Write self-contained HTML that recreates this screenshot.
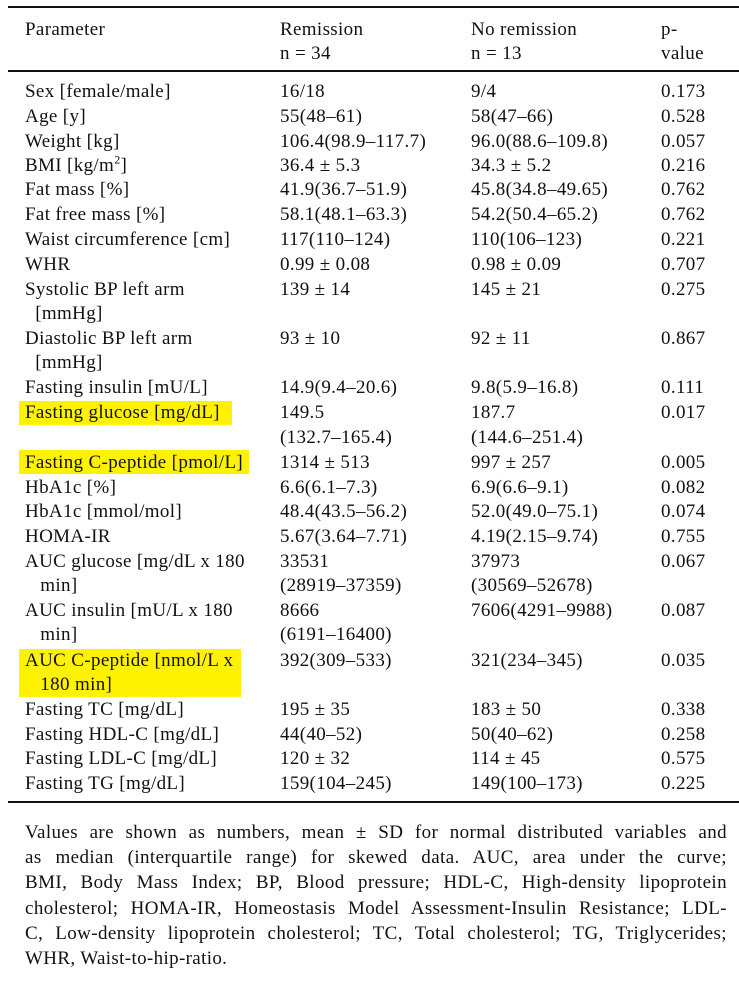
<!DOCTYPE html><html><head><style>
body{margin:0;width:739px;height:981px;background:#fff;position:relative;font-family:"Liberation Serif",serif;font-size:19px;letter-spacing:0.35px;color:#111;overflow:hidden}
.t{position:absolute;line-height:20px;white-space:nowrap}
.r{position:absolute;left:0;background:#111}
.h{position:absolute;background:#fff200}
.j{position:absolute;left:25px;width:702px;line-height:20px;text-align:justify;text-align-last:justify;white-space:nowrap;letter-spacing:0.4px}
</style></head><body>
<div class="r" style="top:6px;left:8px;width:731px;height:2px"></div>
<div class="r" style="top:70px;left:8px;width:731px;height:2px"></div>
<div class="r" style="top:801px;left:8px;width:731px;height:2px"></div>
<div class="h" style="left:19px;top:401px;width:213px;height:24px"></div>
<div class="h" style="left:19px;top:450px;width:230px;height:24px"></div>
<div class="h" style="left:19px;top:649px;width:222px;height:48px"></div>
<div id="c"></div>
<script>
const rows=[
[28,"Parameter","Remission","No remission","p-"],
[52,"","n = 34","n = 13","value"],
[90,"Sex [female/male]","16/18","9/4","0.173"],
[115,"Age [y]","55(48–61)","58(47–66)","0.528"],
[140,"Weight [kg]","106.4(98.9–117.7)","96.0(88.6–109.8)","0.057"],
[164,"BMI [kg/m<sup style='font-size:12px;line-height:0'>2</sup>]","36.4 ± 5.3","34.3 ± 5.2","0.216"],
[188,"Fat mass [%]","41.9(36.7–51.9)","45.8(34.8–49.65)","0.762"],
[213,"Fat free mass [%]","58.1(48.1–63.3)","54.2(50.4–65.2)","0.762"],
[238,"Waist circumference [cm]","117(110–124)","110(106–123)","0.221"],
[263,"WHR","0.99 ± 0.08","0.98 ± 0.09","0.707"],
[288,"Systolic BP left arm","139 ± 14","145 ± 21","0.275"],
[312,"&nbsp;&nbsp;[mmHg]","","",""],
[337,"Diastolic BP left arm","93 ± 10","92 ± 11","0.867"],
[361,"&nbsp;&nbsp;[mmHg]","","",""],
[386,"Fasting insulin [mU/L]","14.9(9.4–20.6)","9.8(5.9–16.8)","0.111"],
[411,"Fasting glucose [mg/dL]","149.5","187.7","0.017"],
[436,"","(132.7–165.4)","(144.6–251.4)",""],
[461,"Fasting C-peptide [pmol/L]","1314 ± 513","997 ± 257","0.005"],
[486,"HbA1c [%]","6.6(6.1–7.3)","6.9(6.6–9.1)","0.082"],
[510,"HbA1c [mmol/mol]","48.4(43.5–56.2)","52.0(49.0–75.1)","0.074"],
[535,"HOMA-IR","5.67(3.64–7.71)","4.19(2.15–9.74)","0.755"],
[560,"AUC glucose [mg/dL x 180","33531","37973","0.067"],
[584,"&nbsp;&nbsp;&nbsp;min]","(28919–37359)","(30569–52678)",""],
[609,"AUC insulin [mU/L x 180","8666","7606(4291–9988)","0.087"],
[633,"&nbsp;&nbsp;&nbsp;min]","(6191–16400)","",""],
[659,"AUC C-peptide [nmol/L x","392(309–533)","321(234–345)","0.035"],
[683,"&nbsp;&nbsp;&nbsp;180 min]","","",""],
[708,"Fasting TC [mg/dL]","195 ± 35","183 ± 50","0.338"],
[733,"Fasting HDL-C [mg/dL]","44(40–52)","50(40–62)","0.258"],
[757,"Fasting LDL-C [mg/dL]","120 ± 32","114 ± 45","0.575"],
[782,"Fasting TG [mg/dL]","159(104–245)","149(100–173)","0.225"]];
const xs=[25,280,471,661];let h="";
for(const r of rows){for(let i=0;i<4;i++){if(r[i+1])h+=`<div class="t" style="left:${xs[i]}px;top:${r[0]-8}px">${r[i+1]}</div>`;}}
const f=["Values are shown as numbers, mean ± SD for normal distributed variables and","as median (interquartile range) for skewed data. AUC, area under the curve;","BMI, Body Mass Index; BP, Blood pressure; HDL-C, High-density lipoprotein","cholesterol; HOMA-IR, Homeostasis Model Assessment-Insulin Resistance; LDL-","C, Low-density lipoprotein cholesterol; TC, Total cholesterol; TG, Triglycerides;"];
f.forEach((s,i)=>{h+=`<div class="j" style="top:${831+i*25.2-8}px">${s}</div>`});
h+=`<div class="t" style="left:25px;top:${831+5*25.2-8}px">WHR, Waist-to-hip-ratio.</div>`;
document.getElementById("c").innerHTML=h;
</script>
</body></html>
